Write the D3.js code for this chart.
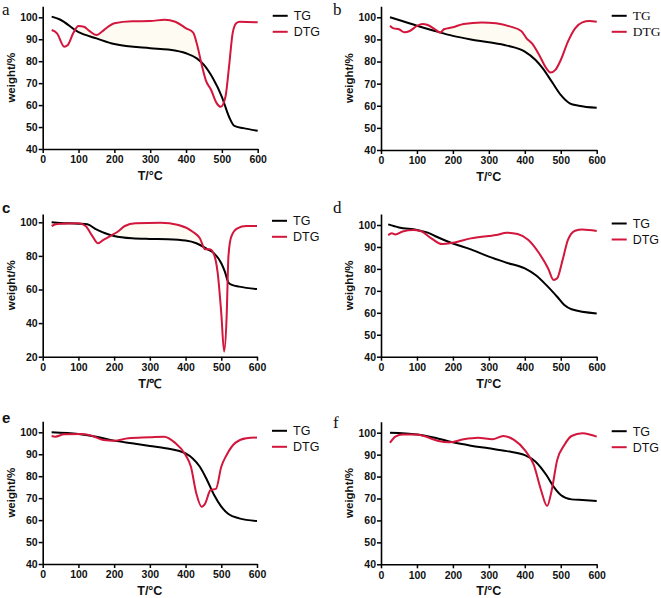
<!DOCTYPE html>
<html><head><meta charset="utf-8">
<script src="https://cdn.jsdelivr.net/npm/d3@7"></script>
<style>body{margin:0;background:#fff}svg{display:block}</style>
</head><body>
<script>
// ---- data ----
const panelLetters = ["a","b","c","d","e","f"];
const seriesNames = ["TG","DTG"];
const xTicks = [0,100,200,300,400,500,600];
const yTicksA = [40,50,60,70,80,90,100];
const yTicksC = [20,40,60,80,100];
const xTitles = ["T/°C","T/°C","T/℃","T/°C","T/°C","T/°C"];
const yTitle = "weight/%";

const tgA = [[25,100.3],[48,99],[100,93.2],[150,90.4],[200,87.8],[300,85.9],[350,85.3],[400,83.6],[430,81.3],[450,78.3],[475,72.2],[500,63.8],[520,54.7],[535,50.5],[560,49.5],[600,48.3]];
const dtgA = [[25,94.2],[40,92.7],[60,86.6],[70,87.4],[85,92.7],[100,96.0],[115,95.7],[130,93.8],[150,91.9],[165,93.4],[185,96.0],[200,97.3],[250,98.2],[300,98.3],[340,98.9],[370,98.0],[400,95.0],[420,93.0],[430,88.1],[445,77.5],[455,71.4],[470,66.9],[485,61.0],[497,59.2],[510,63.8],[520,77.5],[530,92.7],[540,97.3],[550,98.0],[600,97.7]];

const tgB = [[25,100],[50,98.8],[100,96.2],[150,93.8],[200,91.6],[250,90.0],[300,88.7],[350,87.2],[400,84.5],[430,80.7],[450,76.9],[475,70.9],[500,64.9],[525,61.1],[550,60.0],[600,59.1]];
const dtgB = [[25,96.2],[35,95.0],[50,94.6],[65,93.2],[80,93.8],[100,96.1],[115,97.0],[130,96.5],[150,94.6],[165,93.1],[175,94.6],[200,95.5],[230,97.0],[280,97.7],[320,97.3],[360,95.8],[390,93.8],[405,90.5],[420,88.2],[440,83.0],[460,76.9],[472,75.0],[485,76.2],[500,80.7],[520,89.0],[540,95.0],[560,97.7],[580,98.3],[600,98.0]];

const tgC = [[25,100],[50,99.6],[100,99.2],[125,98.8],[150,95.8],[175,93.5],[200,91.9],[250,90.5],[300,90.1],[350,89.9],[400,89.1],[430,87.5],[460,84.1],[480,81.5],[500,75.6],[510,70.6],[520,64.1],[530,62.7],[550,61.7],[600,60.3]];
const dtgC = [[25,97.8],[40,99],[100,99.4],[120,97.8],[140,91.5],[155,87.5],[170,89.5],[190,91.9],[210,94.4],[230,97.8],[260,99.4],[330,99.8],[380,98.4],[420,94.4],[440,90.5],[455,83.9],[468,83.9],[480,80.6],[490,69.7],[500,45.8],[508,23.0],[515,43.8],[520,79.6],[528,91.5],[545,96.4],[570,97.8],[600,97.8]];

const tgD = [[20,100.3],[50,98.9],[100,97.7],[130,96.5],[150,95.0],[200,91.6],[250,88.9],[300,85.6],[350,82.8],[400,80.2],[430,77.2],[460,72.6],[490,67.3],[510,63.5],[530,61.6],[600,59.7]];
const dtgD = [[20,95.4],[30,96.2],[40,95.7],[60,97.0],[90,97.7],[110,97.3],[140,93.9],[170,91.3],[200,91.9],[250,93.9],[300,95.0],[320,95.4],[350,96.5],[380,95.9],[410,93.2],[440,87.1],[465,80.2],[480,74.9],[490,75.7],[505,84.0],[520,93.2],[540,97.4],[560,98.0],[600,97.3]];

const tgE = [[25,100],[100,99.2],[150,98],[200,96.2],[250,95.0],[300,93.8],[350,92.6],[380,91.6],[400,90.4],[420,88.1],[440,84.3],[460,78.3],[480,71.4],[500,66.1],[520,62.8],[550,60.8],[600,59.6]];
const dtgE = [[25,98.3],[35,98.0],[60,99.1],[110,99.2],[140,98.3],[170,96.5],[200,96.2],[240,97.3],[300,97.7],[340,98.0],[370,95.3],[400,89.7],[415,84.3],[430,72.2],[445,66.1],[455,67.6],[470,73.7],[485,74.2],[500,84.3],[515,89.7],[540,95.3],[570,97.3],[600,97.6]];

const tgF = [[25,100],[100,99.2],[150,97.7],[200,95.6],[250,94.1],[300,92.9],[350,91.6],[400,89.8],[430,86.8],[460,80.7],[480,75.4],[500,71.6],[530,69.6],[560,69.3],[600,68.9]];
const dtgF = [[25,95.4],[40,98.2],[60,99.2],[100,99.2],[130,97.9],[160,96.2],[190,95.6],[230,97.0],[270,97.7],[310,97.0],[340,98.5],[370,96.7],[400,92.1],[425,85.3],[445,73.9],[462,66.6],[475,73.9],[490,87.5],[510,94.4],[530,98.5],[560,99.7],[580,99.2],[600,98.2]];

// temperature span where the area between DTG (above) and TG is shaded
const fillRanges = [[90,438],[165,455],[195,457],null,null,null];

// ---- layout ----
const W = 661, H = 598;
const svg = d3.select("body").append("svg").attr("width", W).attr("height", H);
const red = "#d2163c";

const panels = [
  {tg:tgA, dtg:dtgA, yTicks:yTicksA, yMin:40, x0:42.7, x1:257.7, y100:17.3, yBot:149, letterSerif:true, legendSerif:false, letter:[2,15]},
  {tg:tgB, dtg:dtgB, yTicks:yTicksA, yMin:40, x0:381, x1:596.7, y100:17.3, yBot:150, letterSerif:true, legendSerif:true, letter:[333,15]},
  {tg:tgC, dtg:dtgC, yTicks:yTicksC, yMin:20, x0:42.7, x1:257, y100:222.3, yBot:356.7, letterSerif:false, legendSerif:false, letter:[2,213]},
  {tg:tgD, dtg:dtgD, yTicks:yTicksA, yMin:40, x0:381, x1:596.7, y100:225, yBot:356.7, letterSerif:true, legendSerif:false, letter:[333,213]},
  {tg:tgE, dtg:dtgE, yTicks:yTicksA, yMin:40, x0:42.7, x1:257, y100:432.3, yBot:564, letterSerif:false, legendSerif:false, letter:[2,423]},
  {tg:tgF, dtg:dtgF, yTicks:yTicksA, yMin:40, x0:381, x1:596.7, y100:432.7, yBot:564.3, letterSerif:true, legendSerif:false, letter:[333,428]}
];

const sans = "'Liberation Sans', Arial, sans-serif";
const serif = "'Liberation Serif', 'Times New Roman', serif";

panels.forEach((p, i) => {
  const g = svg.append("g");
  const x = d3.scaleLinear().domain([0,600]).range([p.x0, p.x1]);
  const unit = (p.yBot - p.y100) / (100 - p.yMin);
  const yTop = p.y100 - unit * 5;
  const y = d3.scaleLinear().domain([p.yMin, 105]).range([p.yBot, yTop]);

  const line = d3.line().x(d => x(d[0])).y(d => y(d[1])).curve(d3.curveMonotoneX);

  // shaded region between curves
  const fr = fillRanges[i];
  if (fr) {
    const top = p.dtg.filter(d => d[0] >= fr[0] && d[0] <= fr[1]);
    const bot = p.tg.filter(d => d[0] >= fr[0] && d[0] <= fr[1]).slice().reverse();
    const pts = top.concat(bot);
    g.append("path")
      .attr("d", d3.line().x(d => x(d[0])).y(d => y(d[1])).curve(d3.curveLinear)(pts) + "Z")
      .attr("fill", "#fefcf2").attr("stroke", "none");
  }

  // axes
  const xa = g.append("g").attr("transform", `translate(0,${p.yBot})`)
    .call(d3.axisBottom(x).tickValues(xTicks).tickSize(4).tickPadding(3).tickSizeOuter(0));
  const ya = g.append("g").attr("transform", `translate(${p.x0},0)`)
    .call(d3.axisLeft(y).tickValues(p.yTicks).tickSize(4).tickPadding(1).tickSizeOuter(0));
  [xa, ya].forEach(a => {
    a.select(".domain").attr("stroke", "#000").attr("stroke-width", 1.6);
    a.selectAll(".tick line").attr("stroke", "#000").attr("stroke-width", 1.5);
    a.selectAll(".tick text").attr("fill", "#111").attr("font-family", sans)
      .attr("font-weight", "bold").attr("font-size", "10.5px");
  });

  // lines
  g.append("path").attr("d", line(p.tg)).attr("fill", "none")
    .attr("stroke", "#000").attr("stroke-width", 2);
  g.append("path").attr("d", line(p.dtg)).attr("fill", "none")
    .attr("stroke", red).attr("stroke-width", 2);

  // titles
  g.append("text").attr("x", (p.x0 + p.x1) / 2).attr("y", p.yBot + 31)
    .attr("text-anchor", "middle").attr("font-family", sans).attr("font-weight", "bold")
    .attr("font-size", "12.5px").attr("fill", "#111").text(xTitles[i]);
  g.append("text").attr("transform", `translate(${p.x0 - 28},${(yTop + p.yBot) / 2}) rotate(-90)`)
    .attr("text-anchor", "middle").attr("font-family", sans).attr("font-weight", "bold")
    .attr("font-size", "11.5px").attr("fill", "#111").text(yTitle);

  // panel letter
  g.append("text").attr("x", p.letter[0]).attr("y", p.letter[1])
    .attr("font-family", p.letterSerif ? serif : sans)
    .attr("font-weight", p.letterSerif ? "normal" : "bold")
    .attr("font-size", p.letterSerif ? "17px" : "15px").attr("fill", "#111").text(panelLetters[i]);

  // legend
  const lx = p.x1 + 15, ly = p.y100 - 1.5;
  const colors = ["#000", red];
  seriesNames.forEach((s, k) => {
    const yy = ly + k * 16;
    g.append("line").attr("x1", lx).attr("x2", lx + 15).attr("y1", yy).attr("y2", yy)
      .attr("stroke", colors[k]).attr("stroke-width", 2);
    g.append("text").attr("x", lx + 21).attr("y", yy + 4.5)
      .attr("font-family", p.legendSerif ? serif : sans)
      .attr("font-size", p.legendSerif ? "13.5px" : "12.5px").attr("fill", "#111").text(s);
  });
});
</script>
</body></html>
